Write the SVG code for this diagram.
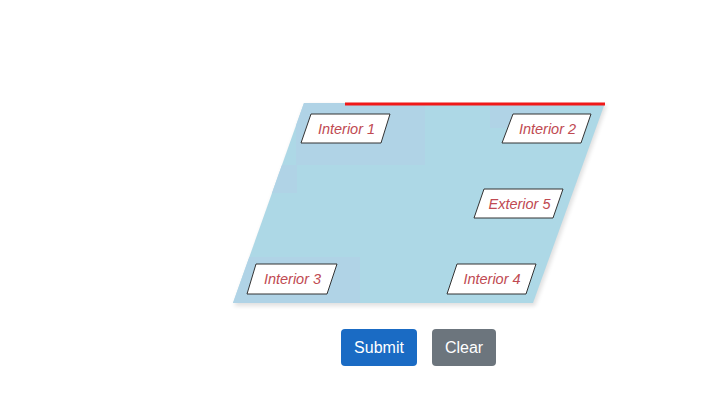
<svg xmlns="http://www.w3.org/2000/svg" width="718" height="416" viewBox="0 0 718 416">
<defs>
<style>
.lbl{fill:#fff;stroke:#333;stroke-width:1}
.lt{font-family:"Liberation Sans",Arial,sans-serif;font-size:14.5px;font-style:italic;fill:#c04a52;text-anchor:middle}
.bt{font-family:"Liberation Sans",Arial,sans-serif;font-size:16px;fill:#fff;text-anchor:middle}
.tile{fill:#b0d3e6}
</style>
<filter id="sh" x="-10%" y="-10%" width="120%" height="120%"><feGaussianBlur stdDeviation="2"/></filter>
<clipPath id="pc"><polygon points="304,103 605,103 533,303 233,303"/></clipPath>
</defs>
<rect width="718" height="416" fill="#fff"/>
<g id="board">
<polygon points="305,105 607,105 535,306 234,306" fill="#000" opacity="0.12" filter="url(#sh)"/>
<polygon points="304,103 605,103 533,303 233,303" fill="#add8e6"/>
<g clip-path="url(#pc)">
<rect class="tile" x="296" y="103" width="129" height="62"/>
<rect class="tile" x="490" y="103" width="60" height="25"/>
<rect class="tile" x="233" y="165" width="64" height="28"/>
<rect class="tile" x="233" y="257" width="127" height="46"/>
</g>
<line x1="345" y1="104" x2="605" y2="104" stroke="#f01818" stroke-width="3"/>
</g>
<g id="interior1"><polygon class="lbl" points="311,114 390,114 381,143 301,143"/><text class="lt" x="346.5" y="134">Interior 1</text></g>
<g id="interior2"><polygon class="lbl" points="513,114 591,114 581,143 502,143"/><text class="lt" x="547.5" y="134">Interior 2</text></g>
<g id="exterior5"><polygon class="lbl" points="484,189 563,189 553,218 474,218"/><text class="lt" x="519.5" y="209">Exterior 5</text></g>
<g id="interior3"><polygon class="lbl" points="256,264 337,264 327,294 247,294"/><text class="lt" x="292.5" y="284">Interior 3</text></g>
<g id="interior4"><polygon class="lbl" points="457,264 536,264 526,294 447,294"/><text class="lt" x="492" y="284">Interior 4</text></g>
<g id="connectors"></g>
<g id="submit"><rect x="341" y="329" width="76" height="37" rx="4" fill="#1a6bc4"/><text class="bt" x="379" y="353">Submit</text></g>
<g id="clear"><rect x="432" y="329" width="64" height="37" rx="4" fill="#6c757d"/><text class="bt" x="464" y="353">Clear</text></g>
</svg>
